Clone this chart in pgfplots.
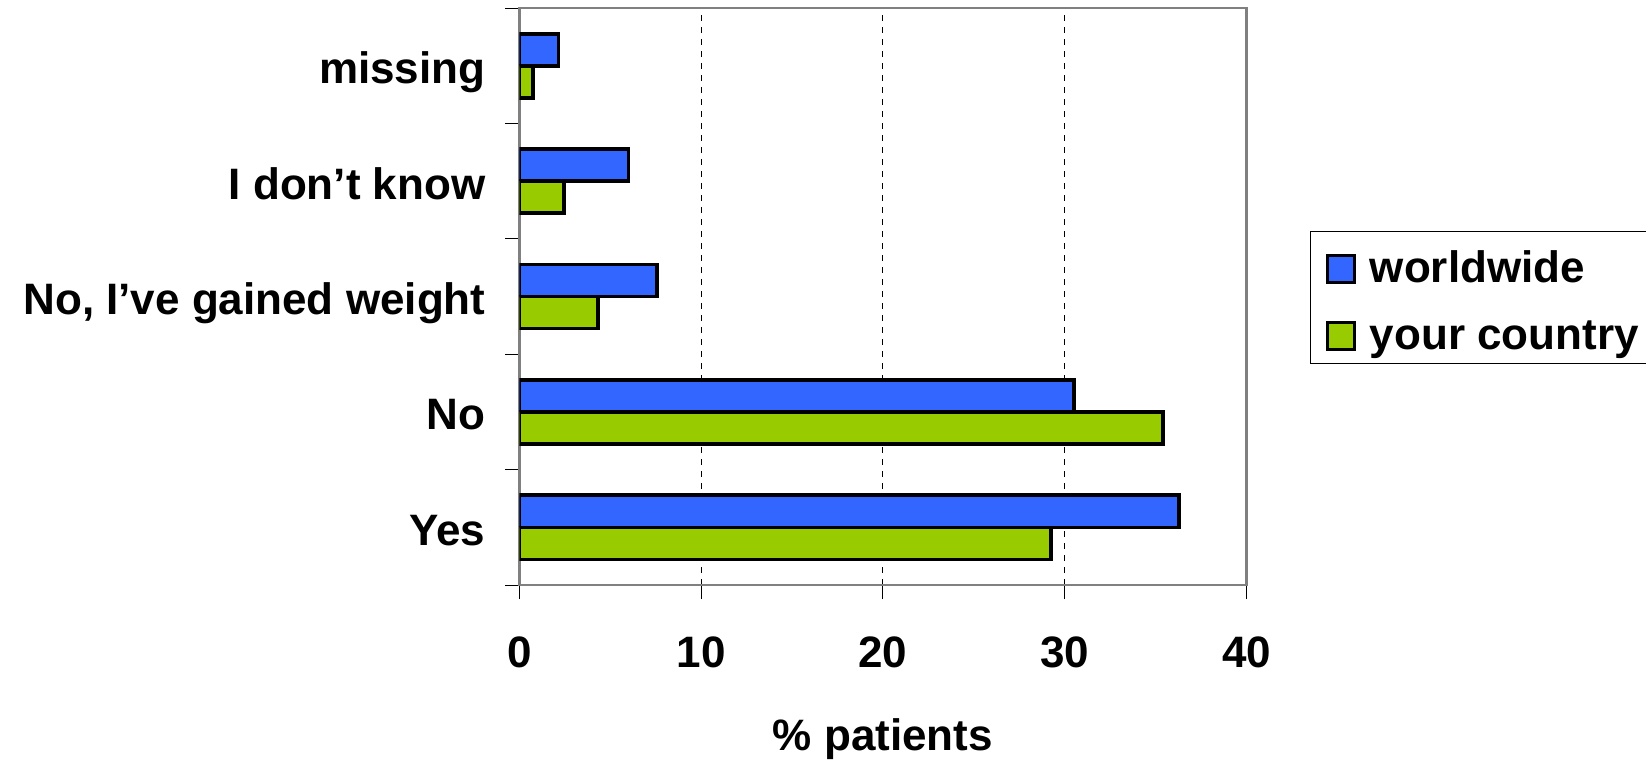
\documentclass[border=0pt]{standalone}
\usepackage{fontspec}
\setmainfont{Liberation Sans}
\usepackage{pgfplots}
\pgfplotsset{compat=1.18}
\definecolor{wwblue}{RGB}{51,102,255}
\definecolor{ctgreen}{RGB}{153,204,0}
\definecolor{framegray}{RGB}{128,128,128}
\newcommand{\lbl}{\bfseries\fontsize{22}{26}\selectfont}

\begin{document}
\begin{tikzpicture}
\begin{axis}[
  name=ax,
  scale only axis, width=363.5pt, height=288.5pt,
  xbar, bar width=16pt,
  xmin=0, xmax=40, ymin=-0.5, ymax=4.5,
  xtick={0,10,20,30,40}, xticklabels={0,10,20,30,40},
  ytick={0,1,2,3,4},
  yticklabels={Yes, No, {No, I’ve gained weight}, I don’t know, missing},
  minor ytick={-0.5,0.5,...,4.5},
  xtick pos=bottom, ytick pos=left,
  tick align=outside, major tick length=7pt, minor tick length=7pt,
  major x tick style={black, line width=0.5pt},
  major y tick style={draw=none},
  minor y tick style={black, line width=0.5pt},
  xmajorgrids,
  major x grid style={black, line width=0.5pt, dash pattern=on 3pt off 3pt},
  axis line style={framegray, line width=1.25pt},
  ticklabel style={font=\lbl},
  xticklabel style={yshift=-15.5pt},
  yticklabel style={anchor=base east, xshift=-6.5pt, yshift=-9pt},
  xlabel={\% patients},
  xlabel style={font=\lbl, at={(axis description cs:0.5,-0.286)}, anchor=base},
  legend image code/.code={\draw[#1, line width=1.25pt] (0pt,-9.15pt) rectangle (13.5pt,4.35pt);},
  legend style={at={(axis description cs:1.087,0.614)}, anchor=north west,
    draw=black, line width=0.6pt, font=\lbl,
    inner xsep=8pt, inner ysep=6pt, row sep=12.8pt, column sep=7pt,
    nodes={inner sep=0pt, text height=19.5pt, text depth=1.2pt}},
  legend cell align=left,
]
\addplot[fill=wwblue, draw=black, line width=1.8pt, bar shift=8pt]
  coordinates {(36.3,0) (30.5,1) (7.55,2) (6.0,3) (2.15,4)};
\addlegendentry{worldwide}
\addplot[fill=ctgreen, draw=black, line width=1.8pt, bar shift=-8pt]
  coordinates {(29.25,0) (35.4,1) (4.32,2) (2.45,3) (0.73,4)};
\addlegendentry{your country}
\end{axis}
\pgfresetboundingbox
\path[use as bounding box] ([xshift=-259.75pt,yshift=-87.5pt]ax.south west) rectangle ++(823pt,380pt);
\end{tikzpicture}
\end{document}
